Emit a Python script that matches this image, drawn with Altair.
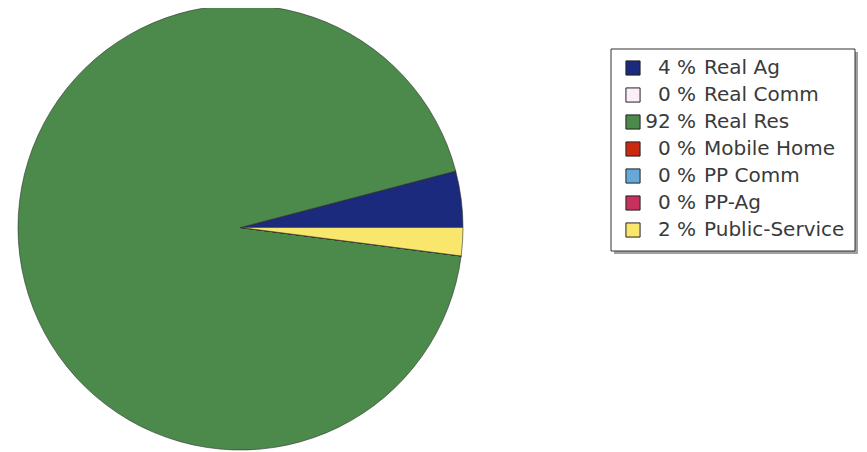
import altair as alt
import pandas as pd

categories = ["Real Ag", "Real Comm", "Real Res", "Mobile Home", "PP Comm", "PP-Ag", "Public-Service"]
percents = [4, 0, 92, 0, 0, 0, 2]
colors = ["#1b2a7c", "#fbeefa", "#4b8a4b", "#c92a10", "#66a9d8", "#c8305e", "#f9e66c"]

df = pd.DataFrame({
    "cat": categories,
    "pct": percents,
    "pct_label": [f"{p} %" for p in percents],
    "idx": list(range(len(categories))),
})

W, H = 851, 444
cx, cy, R = 232.5, 219.5, 222.5

color_scale = alt.Scale(domain=categories, range=colors)

pie = alt.Chart(df).mark_arc(radius=R, stroke="#333", strokeWidth=0.6).encode(
    x=alt.value(cx),
    y=alt.value(cy),
    theta=alt.Theta("pct:Q", stack=True, scale=alt.Scale(range=[1.5707963, -4.7123890])),
    order=alt.Order("idx:Q"),
    color=alt.Color("cat:N", scale=color_scale, legend=None),
)

# legend box + shadow
shadow = alt.Chart(df.head(1)).mark_rect(color="#a0a0a0").encode(
    x=alt.value(606), x2=alt.value(850), y=alt.value(44), y2=alt.value(246)
)
box = alt.Chart(df.head(1)).mark_rect(fill="white", stroke="#333", strokeWidth=1).encode(
    x=alt.value(603), x2=alt.value(847), y=alt.value(41), y2=alt.value(243)
)

ypos = alt.Y("cat:N", sort=categories, scale=alt.Scale(range=[60, 222], padding=0), axis=None)

swatch = alt.Chart(df).mark_square(size=200, stroke="#222", strokeWidth=1, opacity=1).encode(
    x=alt.value(625),
    y=ypos,
    color=alt.Color("cat:N", scale=color_scale, legend=None),
)

pct_text = alt.Chart(df).mark_text(
    align="right", baseline="middle", font="DejaVu Sans", fontSize=20, color="#3a3a3a"
).encode(x=alt.value(688), y=ypos, text="pct_label:N")

cat_text = alt.Chart(df).mark_text(
    align="left", baseline="middle", font="DejaVu Sans", fontSize=20, color="#3a3a3a"
).encode(x=alt.value(696), y=ypos, text="cat:N")

chart = alt.layer(pie, shadow, box, swatch, pct_text, cat_text).properties(
    width=W, height=H, padding=0,
    autosize=alt.AutoSizeParams(type="none"),
).configure_view(stroke=None)

chart.save("out.html", embed_options={"renderer": "svg", "actions": False})
